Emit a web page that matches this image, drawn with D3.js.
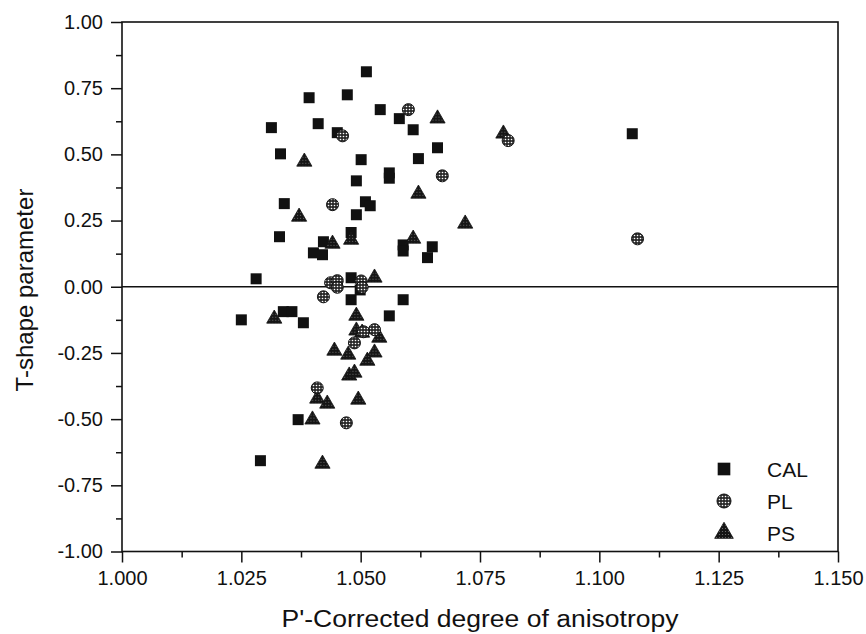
<!DOCTYPE html>
<html>
<head>
<meta charset="utf-8">
<script src="https://cdn.jsdelivr.net/npm/d3@7"></script>
<style>
  body { margin: 0; background: #fff; }
  text { font-family: "Liberation Sans", Arial, sans-serif; fill: #111; }
</style>
</head>
<body>
<div id="chart"></div>
<script>
// series: [P', T]
const calPoints = [
  [1.0512, 0.812], [1.0392, 0.714], [1.0472, 0.725], [1.0541, 0.669],
  [1.0313, 0.601], [1.0411, 0.616], [1.0451, 0.582], [1.0581, 0.635],
  [1.0610, 0.593], [1.0661, 0.525], [1.0332, 0.502], [1.0501, 0.480],
  [1.0621, 0.484], [1.0491, 0.400], [1.0560, 0.430], [1.0560, 0.410],
  [1.0340, 0.314], [1.0510, 0.321], [1.0520, 0.306], [1.0491, 0.272],
  [1.0330, 0.189], [1.0480, 0.205], [1.0422, 0.170], [1.0401, 0.128],
  [1.0420, 0.121], [1.0589, 0.158], [1.0589, 0.135], [1.0650, 0.151],
  [1.0640, 0.110], [1.0281, 0.030], [1.0480, 0.034], [1.0480, -0.049],
  [1.0499, -0.012], [1.0589, -0.049], [1.0560, -0.110], [1.0250, -0.125],
  [1.0338, -0.094], [1.0356, -0.094], [1.0380, -0.136], [1.0369, -0.502],
  [1.0290, -0.657], [1.1069, 0.578]
];
const plPoints = [
  [1.0600, 0.669], [1.0462, 0.570], [1.0671, 0.419], [1.0441, 0.310],
  [1.0437, 0.015], [1.0451, 0.023], [1.0451, -0.002], [1.0501, 0.022],
  [1.0503, -0.002], [1.0422, -0.038], [1.0529, -0.162], [1.0506, -0.170],
  [1.0487, -0.212], [1.0409, -0.382], [1.0470, -0.514], [1.0809, 0.552],
  [1.1080, 0.181]
];
const psPoints = [
  [1.0661, 0.635], [1.0382, 0.472], [1.0621, 0.351], [1.0371, 0.264],
  [1.0719, 0.238], [1.0441, 0.162], [1.0480, 0.177], [1.0610, 0.181],
  [1.0529, 0.034], [1.0319, -0.121], [1.0491, -0.110], [1.0491, -0.166],
  [1.0503, -0.174], [1.0539, -0.193], [1.0445, -0.242], [1.0474, -0.257],
  [1.0529, -0.249], [1.0514, -0.280], [1.0476, -0.336], [1.0487, -0.325],
  [1.0409, -0.423], [1.0430, -0.442], [1.0495, -0.427], [1.0399, -0.502],
  [1.0420, -0.669], [1.0799, 0.578]
];
const legendNames = ["CAL", "PL", "PS"];
const xTicks = [1.000, 1.025, 1.050, 1.075, 1.100, 1.125, 1.150];
const yTicks = [1.00, 0.75, 0.50, 0.25, 0.00, -0.25, -0.50, -0.75, -1.00];

const width = 866, height = 634;
const plotLeft = 122, plotRight = 838, plotTop = 22, plotBottom = 551.5;

const svg = d3.select("#chart").append("svg")
  .attr("width", width)
  .attr("height", height);

// stipple fills for the scanned markers
const defs = svg.append("defs");
const dots = defs.append("pattern")
  .attr("id", "dots").attr("patternUnits", "userSpaceOnUse")
  .attr("width", 3).attr("height", 3);
dots.append("rect").attr("width", 3).attr("height", 3).attr("fill", "#2a2a2a");
dots.append("circle").attr("cx", 1.5).attr("cy", 1.5).attr("r", 0.8).attr("fill", "#fff");

const grain = defs.append("pattern")
  .attr("id", "grain").attr("patternUnits", "userSpaceOnUse")
  .attr("width", 3).attr("height", 3);
grain.append("rect").attr("width", 3).attr("height", 3).attr("fill", "#151515");
grain.append("circle").attr("cx", 1.5).attr("cy", 1.5).attr("r", 0.6).attr("fill", "#777");

const x = d3.scaleLinear().domain([1.0, 1.15]).range([plotLeft, plotRight]);
const y = d3.scaleLinear().domain([-1, 1]).range([plotBottom, plotTop]);

// minor ticks
const xMinor = d3.range(0, 6).map(i => 1.0125 + i * 0.025);
const yMinor = d3.range(0, 8).map(i => -0.875 + i * 0.25);

svg.append("g")
  .attr("transform", `translate(0,${plotBottom})`)
  .call(d3.axisBottom(x).tickValues(xMinor).tickSize(6).tickFormat(""))
  .call(g => g.select(".domain").remove());
svg.append("g")
  .attr("transform", `translate(${plotLeft},0)`)
  .call(d3.axisLeft(y).tickValues(yMinor).tickSize(6).tickFormat(""))
  .call(g => g.select(".domain").remove());

const xAxis = svg.append("g")
  .attr("transform", `translate(0,${plotBottom})`)
  .call(d3.axisBottom(x).tickValues(xTicks).tickSize(11).tickPadding(8)
    .tickFormat(d => d.toFixed(3)));
xAxis.select(".domain").remove();
xAxis.selectAll("text").style("font-size", "20px");

const yAxis = svg.append("g")
  .attr("transform", `translate(${plotLeft},0)`)
  .call(d3.axisLeft(y).tickValues(yTicks).tickSize(11).tickPadding(8)
    .tickFormat(d => d.toFixed(2)));
yAxis.select(".domain").remove();
yAxis.selectAll("text").style("font-size", "20px");

svg.selectAll(".tick line").attr("stroke", "#111").attr("stroke-width", 1.5);

// frame and zero line
svg.append("rect")
  .attr("x", plotLeft).attr("y", plotTop)
  .attr("width", plotRight - plotLeft).attr("height", plotBottom - plotTop)
  .attr("fill", "none").attr("stroke", "#111").attr("stroke-width", 1.6);
svg.append("line")
  .attr("x1", plotLeft).attr("x2", plotRight)
  .attr("y1", y(0)).attr("y2", y(0))
  .attr("stroke", "#111").attr("stroke-width", 1.5);

const square = d3.symbol().type(d3.symbolSquare).size(121);
const tri = d3.symbol().type(d3.symbolTriangle).size(100);

svg.append("g").selectAll("path")
  .data(calPoints).enter().append("path")
  .attr("transform", d => `translate(${x(d[0])},${y(d[1])})`)
  .attr("d", square)
  .attr("fill", "#111");

svg.append("g").selectAll("path")
  .data(psPoints).enter().append("path")
  .attr("transform", d => `translate(${x(d[0])},${y(d[1])})`)
  .attr("d", tri)
  .attr("fill", "url(#grain)")
  .attr("stroke", "#111").attr("stroke-width", 0.8);

svg.append("g").selectAll("circle")
  .data(plPoints).enter().append("circle")
  .attr("cx", d => x(d[0]))
  .attr("cy", d => y(d[1]))
  .attr("r", 6)
  .attr("fill", "url(#dots)")
  .attr("stroke", "#111").attr("stroke-width", 1);

// legend
const legend = svg.append("g").attr("transform", "translate(724,469)");
legendNames.forEach((name, i) => {
  const row = legend.append("g").attr("transform", `translate(0,${i * 32})`);
  if (name === "CAL") {
    row.append("path").attr("d", d3.symbol().type(d3.symbolSquare).size(160)).attr("fill", "#111");
  } else if (name === "PL") {
    row.append("circle").attr("r", 7).attr("fill", "url(#dots)")
      .attr("stroke", "#111").attr("stroke-width", 1);
  } else {
    row.append("path").attr("d", d3.symbol().type(d3.symbolTriangle).size(150))
      .attr("fill", "url(#grain)").attr("stroke", "#111").attr("stroke-width", 0.8);
  }
  row.append("text")
    .attr("x", 43).attr("y", 8)
    .style("font-size", "21px")
    .text(name);
});

// axis titles
svg.append("text")
  .attr("x", (plotLeft + plotRight) / 2).attr("y", 627)
  .attr("text-anchor", "middle")
  .attr("textLength", 397).attr("lengthAdjust", "spacingAndGlyphs")
  .style("font-size", "23px")
  .text("P'-Corrected degree of anisotropy");

svg.append("text")
  .attr("transform", "translate(33,290) rotate(-90)")
  .attr("text-anchor", "middle")
  .style("font-size", "24px")
  .text("T-shape parameter");
</script>
</body>
</html>
